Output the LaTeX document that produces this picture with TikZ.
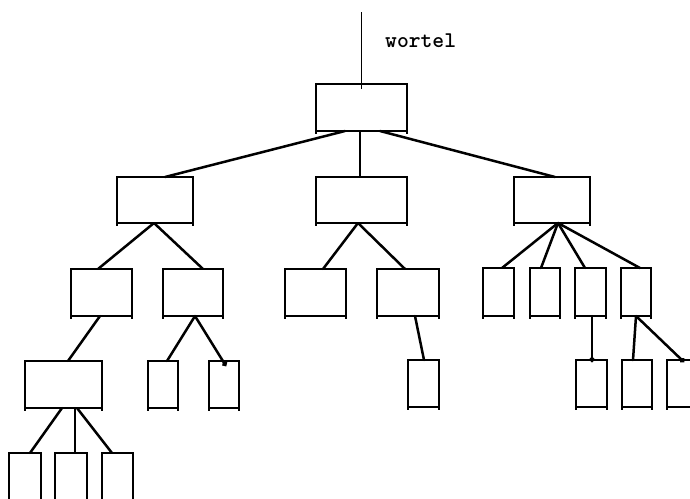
\documentclass[tikz,border=0pt]{standalone}
\usetikzlibrary{arrows.meta}
\begin{document}
\begin{tikzpicture}[x=1pt,y=-1pt,
  box/.style={draw, line width=1.9pt, inner sep=0pt, outer sep=0pt},
  edge/.style={line width=2.5pt, line cap=round},
  stem/.style={line width=1.6pt},
  dotedge/.style={edge, -{Circle[length=5pt]}},
  leg/.style={line width=1.9pt},
  label/.style={font=\ttfamily\bfseries\fontsize{22.5}{26}\selectfont, inner sep=0pt, anchor=base west}
]
\useasboundingbox (0,0) rectangle (690,498);
\clip (0,0) rectangle (690,498);

% root
\node[box, minimum width=91pt, minimum height=47pt] (root) at (361.5,107.5) {};
\coordinate (top) at (361.5,12);
\node[label] (lbl) at (385,47) {wortel};

% first level
\node[box, minimum width=76pt, minimum height=46pt] (la) at (155,200) {};
\node[box, minimum width=91pt, minimum height=46pt] (ma) at (361.5,200) {};
\node[box, minimum width=76pt, minimum height=46pt] (ra) at (552,200) {};

% second level
\node[box, minimum width=61pt, minimum height=47pt] (a) at (101.5,292.5) {};
\node[box, minimum width=60pt, minimum height=47pt] (b) at (193,292.5) {};
\node[box, minimum width=61pt, minimum height=47pt] (c) at (315.5,292.5) {};
\node[box, minimum width=62pt, minimum height=47pt] (d) at (408,292.5) {};
\node[box, minimum width=31pt, minimum height=48pt] (e) at (498.5,292) {};
\node[box, minimum width=30pt, minimum height=48pt] (f) at (545,292) {};
\node[box, minimum width=31pt, minimum height=48pt] (g) at (590.5,292) {};
\node[box, minimum width=30pt, minimum height=48pt] (h) at (636,292) {};

% third level
\node[box, minimum width=77pt, minimum height=47pt] (i) at (63.5,384.5) {};
\node[box, minimum width=30pt, minimum height=47pt] (j) at (163,384.5) {};
\node[box, minimum width=30pt, minimum height=47pt] (k) at (224,384.5) {};
\node[box, minimum width=31pt, minimum height=47pt] (l) at (423.5,383.5) {};
\node[box, minimum width=31pt, minimum height=47pt] (m) at (591.5,383.5) {};
\node[box, minimum width=30pt, minimum height=47pt] (n) at (637,383.5) {};
\node[box, minimum width=31pt, minimum height=47pt] (o) at (682.5,383.5) {};

% fourth level
\node[box, minimum width=32pt, minimum height=50pt] (p) at (25,478) {};
\node[box, minimum width=32pt, minimum height=50pt] (q) at (71,478) {};
\node[box, minimum width=31pt, minimum height=50pt] (r) at (117.5,478) {};

% short legs below each box
\foreach \n in {root,la,ma,ra,a,b,c,d,e,f,g,h,i,j,k,l,m,n,o}
  \draw[leg] (\n.south west) -- ++(0,3) (\n.south east) -- ++(0,3);

% edges
\draw[stem] (top) -- ([yshift=-5pt]root.north);
\draw[edge] ([xshift=-16.5pt]root.south) -- ([xshift=10pt]la.north);
\draw[stem] ([xshift=-1.5pt]root.south) -- ([xshift=-1.5pt]ma.north);
\draw[edge] ([xshift=18.5pt]root.south) -- ([xshift=3pt]ra.north);

\draw[edge] ([xshift=-1pt]la.south) -- ([xshift=-3.5pt]a.north);
\draw[edge] ([xshift=-1pt]la.south) -- ([xshift=10pt]b.north);
\draw[edge] ([xshift=-3.5pt]ma.south) -- ([xshift=7.5pt]c.north);
\draw[edge] ([xshift=-3.5pt]ma.south) -- ([xshift=-3pt]d.north);
\draw[edge] ([xshift=6pt]ra.south) -- ([xshift=3.5pt]e.north);
\draw[edge] ([xshift=6pt]ra.south) -- ([xshift=-4pt]f.north);
\draw[edge] ([xshift=6pt]ra.south) -- ([xshift=-5.5pt]g.north);
\draw[edge] ([xshift=6pt]ra.south) -- ([xshift=4pt]h.north);

\draw[edge] ([xshift=-1.5pt]a.south) -- ([xshift=4.5pt]i.north);
\draw[edge] ([xshift=2pt]b.south) -- ([xshift=4pt]j.north);
\draw[dotedge] ([xshift=2pt]b.south) -- ([xshift=2pt,yshift=-5pt]k.north);
\draw[edge] ([xshift=7pt]d.south) -- ([xshift=0.5pt]l.north);
\draw[dotedge] ([xshift=1.5pt]g.south) -- ([xshift=0.5pt,yshift=-2pt]m.north);
\draw[edge] (h.south) -- ([xshift=-4pt]n.north);
\draw[dotedge] (h.south) -- ([xshift=1.5pt,yshift=-2pt]o.north);

\draw[edge] ([xshift=-1.5pt]i.south) -- ([xshift=5pt]p.north);
\draw[stem] ([xshift=11.5pt]i.south) -- ([xshift=4pt]q.north);
\draw[edge] ([xshift=13.5pt]i.south) -- ([xshift=-5.5pt]r.north);
\end{tikzpicture}
\end{document}
